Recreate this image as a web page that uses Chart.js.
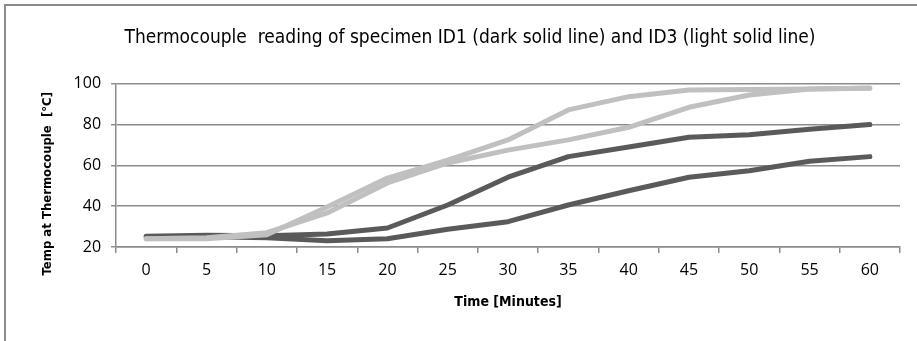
<!DOCTYPE html>
<html>
<head>
<meta charset="utf-8">
<script src="https://cdn.jsdelivr.net/npm/chart.js@4/dist/chart.umd.min.js"></script>
<style>
  html, body { margin: 0; padding: 0; background: #fff; overflow: hidden; }
  #frame { position: absolute; left: 4px; top: 4px; width: 1000px; height: 500px; border: 2px solid #8c8c8c; box-sizing: border-box; }
  #wrap { position: absolute; left: 0; top: 0; width: 917px; height: 341px; }
</style>
</head>
<body>
<div id="frame"></div>
<div id="wrap"><canvas id="chart"></canvas></div>
<script>
const minutes = ["0", "5", "10", "15", "20", "25", "30", "35", "40", "45", "50", "55", "60"];
const id1Upper = [25.3, 25.8, 25.5, 26.4, 29.3, 40.6, 54.2, 64.3, 69, 73.8, 75, 77.7, 80];
const id1Lower = [25, 25, 24.5, 23.1, 24, 28.7, 32.4, 40.6, 47.6, 54.2, 57.4, 62, 64.3];
const id3Upper = [24, 24, 26, 39.6, 53.8, 62.6, 72.5, 87.2, 93.7, 97, 97.2, 97.5, 97.8];
const id3Lower = [24, 24.5, 27, 36.7, 51.4, 61.2, 67.5, 72.5, 78.7, 88.5, 94.5, 97.5, 98];

const dark = "#5a5a5a";
const light = "#c0c0c0";
const narrow = "'Liberation Sans Narrow', 'DejaVu Sans Condensed', sans-serif";
const tickFont = "'Open Sans', sans-serif";

const line = (data, color) => ({
    data,
    borderColor: color,
    backgroundColor: color,
    borderWidth: 5,
    pointRadius: 0,
    tension: 0,
    borderCapStyle: "round",
    borderJoinStyle: "round",
});

const ctx = document.getElementById("chart").getContext("2d");
new Chart(ctx, {
    type: "line",
    data: {
        labels: minutes,
        datasets: [
            line(id3Lower, light),
            line(id3Upper, light),
            line(id1Upper, dark),
            line(id1Lower, dark),
        ],
    },
    options: {
        responsive: true,
        maintainAspectRatio: false,
        animation: false,
        layout: { padding: { left: 40, right: 17, top: 27, bottom: 26 } },
        plugins: {
            legend: { display: false },
            tooltip: { enabled: false },
            title: {
                display: true,
                text: "Thermocouple  reading of specimen ID1 (dark solid line) and ID3 (light solid line)",
                color: "#000",
                font: { family: narrow, size: 19, weight: "normal" },
                padding: { top: 0, bottom: 34 },
            },
        },
        scales: {
            x: {
                offset: true,
                grid: {
                    offset: true,
                    drawOnChartArea: false,
                    color: "#8c8c8c",
                    lineWidth: 1.5,
                    tickLength: 6,
                },
                border: { color: "#8c8c8c", width: 1.5 },
                ticks: { color: "#000", font: { family: tickFont, size: 16 }, padding: 8, maxRotation: 0 },
                title: {
                    display: true,
                    text: "Time [Minutes]",
                    color: "#000",
                    font: { family: narrow, size: 14, weight: "bold" },
                    padding: { top: 6, bottom: 4 },
                },
            },
            y: {
                min: 20,
                max: 100,
                ticks: { stepSize: 20, color: "#000", font: { family: tickFont, size: 16 }, padding: 10 },
                grid: { color: "#8c8c8c", lineWidth: 1.5, tickLength: 5 },
                border: { color: "#8c8c8c", width: 1.5 },
                title: {
                    display: true,
                    text: "Temp at Thermocouple  [°C]         ",
                    color: "#000",
                    font: { family: narrow, size: 13, weight: "bold" },
                    padding: { top: 0, bottom: 8 },
                },
            },
        },
    },
});
</script>
</body>
</html>
